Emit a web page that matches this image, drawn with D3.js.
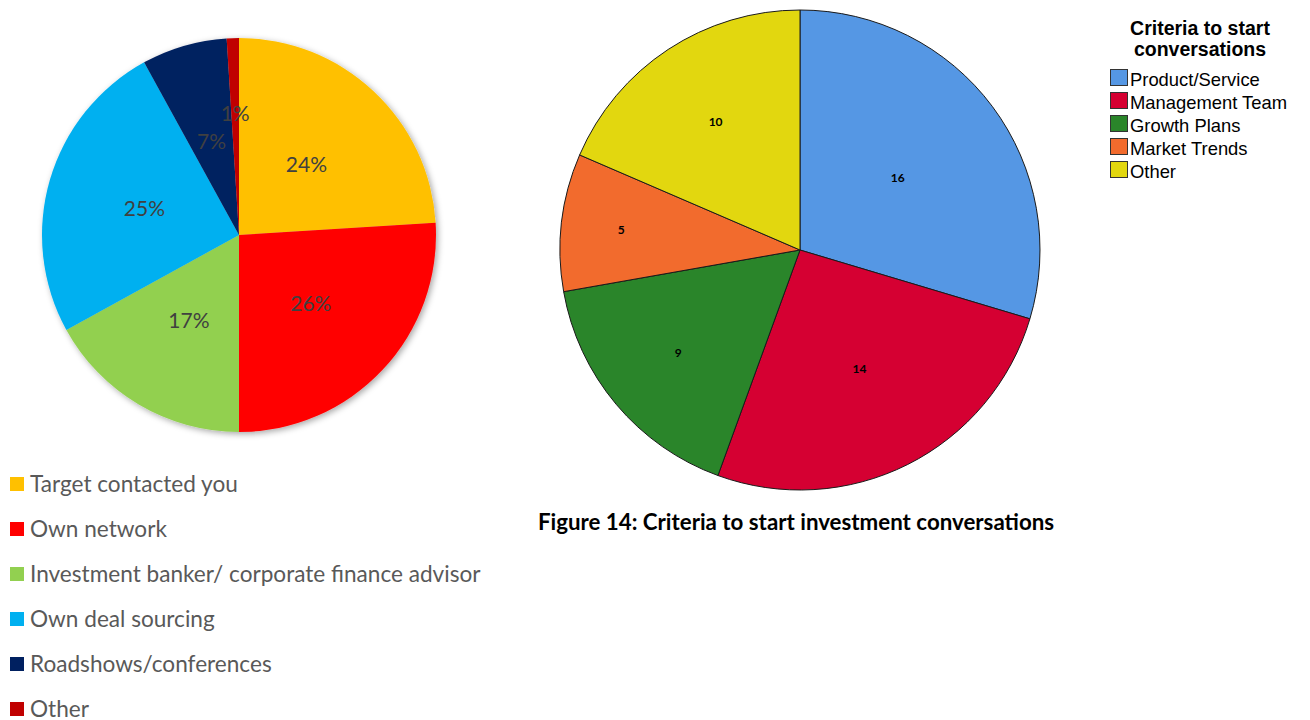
<!DOCTYPE html>
<html>
<head>
<meta charset="utf-8">
<script src="https://cdn.jsdelivr.net/npm/d3@7"></script>
<style>
  html, body { margin: 0; padding: 0; background: #fff; }
  svg { display: block; }
</style>
</head>
<body>
<svg id="chart" width="1310" height="720"></svg>
<script>
// Deal sourcing channels (shares in %)
const sourceCategories = ["Target contacted you", "Own network", "Investment banker/ corporate finance advisor", "Own deal sourcing", "Roadshows/conferences", "Other"];
const sourceValues = [24, 26, 17, 25, 7, 1];
const sourceColors = ["#FFC000", "#FF0000", "#92D050", "#00B0F0", "#002060", "#C00000"];

// Criteria to start investment conversations (counts)
const criteriaCategories = ["Product/Service", "Management Team", "Growth Plans", "Market Trends", "Other"];
const criteriaValues = [16, 14, 9, 5, 10];
const criteriaColors = ["#5597E4", "#D50032", "#2A852A", "#F26B2D", "#E2D70F"];

const legendTitleLines = ["Criteria to start", "conversations"];
const captionText = "Figure 14: Criteria to start investment conversations";

const svg = d3.select("#chart");

// soft shadow under the left pie
const defs = svg.append("defs");
const shadow = defs.append("filter").attr("id", "pieShadow")
  .attr("x", "-10%").attr("y", "-10%").attr("width", "120%").attr("height", "120%");
shadow.append("feDropShadow")
  .attr("dx", 2).attr("dy", 2).attr("stdDeviation", 3)
  .attr("flood-color", "#000").attr("flood-opacity", 0.35);

const pie = d3.pie().sort(null).value(d => d);

// ---------- Left pie: deal sourcing ----------
const leftR = 197;
const leftG = svg.append("g").attr("transform", "translate(239,235)");
const leftArcs = pie(sourceValues);
const leftArc = d3.arc().innerRadius(0).outerRadius(leftR);

leftG.append("g").attr("filter", "url(#pieShadow)")
  .selectAll("path").data(leftArcs).join("path")
  .attr("d", leftArc)
  .attr("fill", (d, i) => sourceColors[i]);

leftG.selectAll("text.pct").data(leftArcs).join("text")
  .attr("class", "pct")
  .attr("transform", d => {
    const r = d.data < 3 ? leftR * 0.62 : leftR * 0.5;
    const c = d3.arc().innerRadius(r).outerRadius(r).centroid(d);
    return `translate(${c[0]},${c[1]})`;
  })
  .attr("text-anchor", "middle")
  .attr("dominant-baseline", "central")
  .attr("font-family", "Lato, 'Open Sans', sans-serif")
  .attr("font-size", 21)
  .attr("fill", "#404040")
  .text(d => d.data + "%");

// left legend
const leftLegend = svg.append("g").attr("transform", "translate(10,477)");
const leftRows = leftLegend.selectAll("g").data(sourceCategories).join("g")
  .attr("transform", (d, i) => `translate(0,${i * 45})`);
leftRows.append("rect")
  .attr("width", 14).attr("height", 14)
  .attr("fill", (d, i) => sourceColors[i]);
leftRows.append("text")
  .attr("x", 20).attr("y", 6)
  .attr("dominant-baseline", "central")
  .attr("font-family", "Lato, 'Open Sans', sans-serif")
  .attr("font-size", 22.6)
  .attr("fill", "#595959")
  .text(d => d);

// ---------- Right pie: criteria ----------
const rightR = 240;
const rightG = svg.append("g").attr("transform", "translate(800,250)");
const rightArcs = pie(criteriaValues);
const rightArc = d3.arc().innerRadius(0).outerRadius(rightR);

rightG.selectAll("path").data(rightArcs).join("path")
  .attr("d", rightArc)
  .attr("fill", (d, i) => criteriaColors[i])
  .attr("stroke", "#1a1a1a")
  .attr("stroke-width", 1)
  .attr("stroke-linejoin", "round");

rightG.selectAll("text.val").data(rightArcs).join("text")
  .attr("class", "val")
  .attr("transform", d => {
    const deg = (d.endAngle - d.startAngle) * 180 / Math.PI;
    const r = rightR * (0.86 - 0.0033 * deg);
    const c = d3.arc().innerRadius(r).outerRadius(r).centroid(d);
    return `translate(${c[0]},${c[1]})`;
  })
  .attr("text-anchor", "middle")
  .attr("dominant-baseline", "central")
  .attr("font-family", "Lato, 'Open Sans', sans-serif")
  .attr("font-weight", "bold")
  .attr("font-size", 12)
  .attr("fill", "#000")
  .text(d => d.data);

// right legend
const rightLegend = svg.append("g").attr("transform", "translate(1110,0)");
rightLegend.selectAll("text.title").data(legendTitleLines).join("text")
  .attr("class", "title")
  .attr("x", 90).attr("y", (d, i) => 35 + i * 21)
  .attr("text-anchor", "middle")
  .attr("font-family", "'Liberation Sans', Arial, sans-serif")
  .attr("font-weight", "bold")
  .attr("font-size", 19.5)
  .attr("fill", "#000")
  .text(d => d);
const rightRows = rightLegend.selectAll("g.row").data(criteriaCategories).join("g")
  .attr("class", "row")
  .attr("transform", (d, i) => `translate(0,${69 + i * 23})`);
rightRows.append("rect")
  .attr("x", 0.5).attr("y", 0.5)
  .attr("width", 17).attr("height", 16)
  .attr("fill", (d, i) => criteriaColors[i])
  .attr("stroke", "#333").attr("stroke-width", 1);
rightRows.append("text")
  .attr("x", 20).attr("y", 10)
  .attr("dominant-baseline", "central")
  .attr("font-family", "'Liberation Sans', Arial, sans-serif")
  .attr("font-size", 18.4)
  .attr("fill", "#000")
  .text(d => d);

// caption
svg.append("text")
  .attr("x", 796).attr("y", 521)
  .attr("text-anchor", "middle")
  .attr("dominant-baseline", "central")
  .attr("font-family", "Lato, 'Open Sans', sans-serif")
  .attr("font-weight", "bold")
  .attr("font-size", 22.3)
  .attr("fill", "#000")
  .text(captionText);
</script>
</body>
</html>
